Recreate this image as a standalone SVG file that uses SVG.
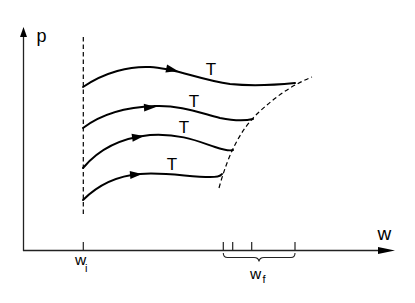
<svg xmlns="http://www.w3.org/2000/svg" xmlns:xlink="http://www.w3.org/1999/xlink" width="415" height="303" viewBox="0 0 415 303">
<style>
.axis{stroke:#222;stroke-width:1.3;fill:none}
.curve{stroke:#000;stroke-width:2;fill:none;stroke-linecap:round}
.dash{stroke:#000;stroke-width:1.2;fill:none;stroke-dasharray:4.5 3}
.tick{stroke:#222;stroke-width:1.2}
.lbl{font-family:"Liberation Sans",Arial,sans-serif;fill:#000}
</style>
<defs>
<path id="ah" d="M0,0 L-12,-4 L-12,4 Z" fill="#000"/>
</defs>
<rect width="415" height="303" fill="#fff"/>
<g id="axes">
<line class="axis" x1="23.5" y1="251" x2="23.5" y2="35"/>
<path d="M23.5,27 L20,37 L27,37 Z" fill="#000"/>
<line class="axis" x1="23" y1="250.5" x2="380" y2="250.5"/>
<path d="M395,250.5 L378,247 L378,254 Z" fill="#000"/>
<text class="lbl" x="36.5" y="42" font-size="18">p</text>
<text class="lbl" x="377.5" y="240" font-size="19">w</text>
</g>
<g id="wi">
<line class="dash" x1="83.3" y1="37" x2="83.3" y2="214"/>
<line class="tick" x1="83.3" y1="242" x2="83.3" y2="250.5"/>
<text class="lbl" x="75" y="265" font-size="15.5">w</text>
<text class="lbl" x="85" y="272" font-size="11">i</text>
</g>
<g id="wf">
<line class="tick" x1="223.3" y1="242" x2="223.3" y2="250.5"/>
<line class="tick" x1="232.7" y1="242" x2="232.7" y2="250.5"/>
<line class="tick" x1="251.7" y1="242" x2="251.7" y2="250.5"/>
<line class="tick" x1="295" y1="242" x2="295" y2="250.5"/>
<path d="M223.3,253 Q223.3,257.5 227.5,257.5 L254,257.5 Q258.5,257.5 259,261.5 Q259.5,257.5 264,257.5 L291,257.5 Q295,257.5 295,253" stroke="#222" stroke-width="1.1" fill="none"/>
<text class="lbl" x="250" y="279" font-size="15.5">w</text>
<text class="lbl" x="262.5" y="282.5" font-size="11">f</text>
</g>
<g id="boundary">
<path class="dash" d="M219,188 C228,155 240,130 258,113 C275,97 292,85 312,77"/>
</g>
<g id="connectors">
<g id="c1">
<path class="curve" d="M83,87 C105,72 130,66 150,67 C175,68 200,80 230,84 C250,86 275,85 295,83"/>
<use xlink:href="#ah" transform="translate(178,71) rotate(12)"/>
<text class="lbl" x="211" y="74.5" font-size="17" text-anchor="middle">T</text>
</g>
<g id="c2">
<path class="curve" d="M83,128 C100,115 125,107 155,106 C180,105 200,113 220,118 C235,121 245,121 253,119"/>
<use xlink:href="#ah" transform="translate(156,107) rotate(-3)"/>
<text class="lbl" x="194" y="106.5" font-size="17" text-anchor="middle">T</text>
</g>
<g id="c3">
<path class="curve" d="M83,168 C98,150 120,138 150,135 C180,133 200,142 215,147 C224,150 230,151 233,150"/>
<use xlink:href="#ah" transform="translate(144,136) rotate(-8)"/>
<text class="lbl" x="184" y="133" font-size="17" text-anchor="middle">T</text>
</g>
<g id="c4">
<path class="curve" d="M83,200 C97,186 115,176 140,174 C165,172 190,177 210,177 C216,177 220,177 222,174"/>
<use xlink:href="#ah" transform="translate(142,174) rotate(-5)"/>
<text class="lbl" x="172" y="170" font-size="17" text-anchor="middle">T</text>
</g>
</g>
</svg>
